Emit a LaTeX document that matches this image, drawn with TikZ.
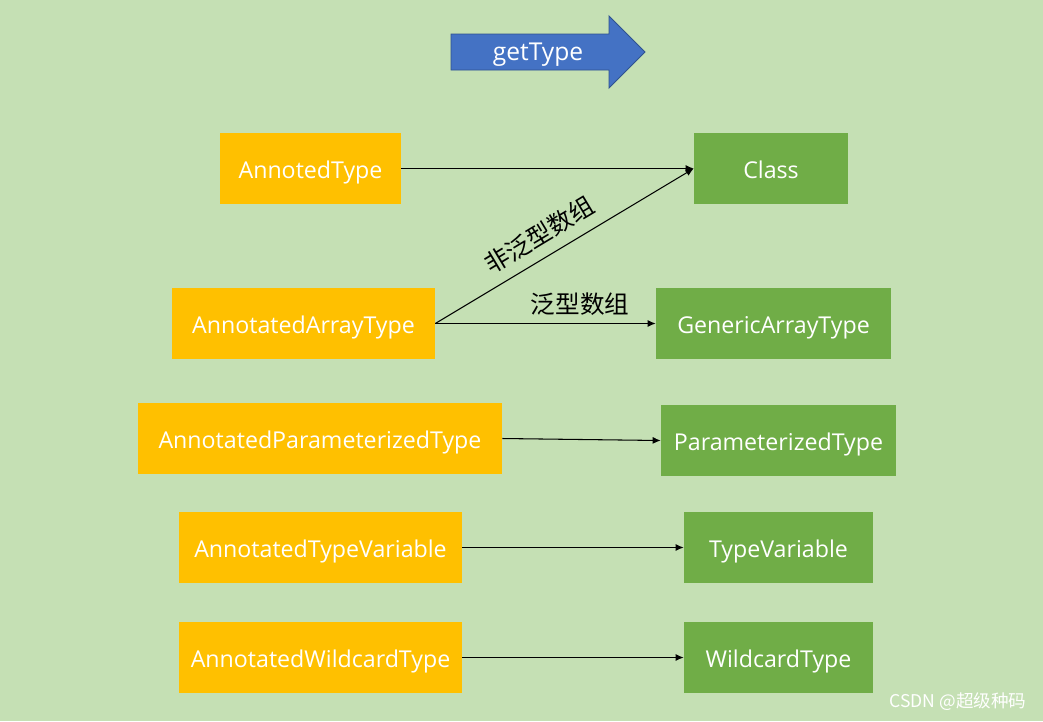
\documentclass[tikz,border=0pt]{standalone}
\usepackage{fontspec}
\setmainfont{Open Sans}
\newfontfamily\cjk{Noto Sans CJK SC}
\usetikzlibrary{arrows.meta}
\definecolor{bgGreen}{HTML}{C5E0B4}
\definecolor{annOrange}{HTML}{FFC000}
\definecolor{rawGreen}{HTML}{70AD47}
\definecolor{callBlue}{HTML}{4472C4}
\definecolor{callEdge}{HTML}{2F528F}
\begin{document}
\begin{tikzpicture}[x=0.02cm,y=-0.02cm,
  box/.style={shape=rectangle,minimum height=1.42cm,inner sep=0,text height=13.5pt,text depth=1.8pt,text=white,font=\fontsize{13.2}{16}\selectfont},
  ann/.style={box,fill=annOrange},
  raw/.style={box,fill=rawGreen},
  lab/.style={font=\cjk\fontsize{14}{16}\selectfont,inner sep=1pt},
  link/.style={line width=0.6pt,-{Latex[length=1.6mm,width=1.4mm]}}]
\def\yA{168.5};
\def\yB{323.5};
\def\yC{438.5};
\def\yD{547.5};
\def\yE{657.5};

% background and size
\fill[bgGreen] (0,0) rectangle (1043,721);
\useasboundingbox (0,0) rectangle (1043,721);

% getType arrow
\filldraw[fill=callBlue,draw=callEdge,line width=0.5pt] (451,34) -- (609,34) -- (609,16) -- (645,52) -- (609,88) -- (609,70) -- (451,70) -- cycle;
\node[text=white,inner sep=0,text height=12pt,text depth=1.9pt,font=\fontsize{14}{16}\selectfont] (call) at (538,52) {getType};

% left column
\node[ann,minimum width=3.62cm] (AT) at (310.5,\yA) {AnnotedType};
\node[ann,minimum width=5.26cm] (AAT) at (303.5,\yB) {AnnotatedArrayType};
\node[ann,minimum width=7.28cm] (APT) at (320,\yC) {AnnotatedParameterizedType};
\node[ann,minimum width=5.66cm] (ATV) at (320.5,\yD) {AnnotatedTypeVariable};
\node[ann,minimum width=5.66cm] (AWT) at (320.5,\yE) {AnnotatedWildcardType};

% right column
\node[raw,minimum width=3.08cm] (C) at (771,\yA) {Class};
\node[raw,minimum width=4.7cm] (GAT) at (773.5,\yB) {GenericArrayType};
\node[raw,minimum width=4.7cm] (PT) at (778.5,440.5) {ParameterizedType};
\node[raw,minimum width=3.78cm] (TV) at (778.5,\yD) {TypeVariable};
\node[raw,minimum width=3.78cm] (WT) at (778.5,\yE) {WildcardType};

\draw[link] (AT.east) -- (C.west);
\draw[link] (AAT.east) -- (C.west);
\draw[link] (AAT.east) -- (GAT.west);
\draw[link] (APT.east) -- (PT.west);
\draw[link] (ATV.east) -- (TV.west);
\draw[link] (AWT.east) -- (WT.west);

\node[lab,rotate=31] (nonGen) at (539,235) {非泛型数组};
\node[lab] (gen) at (580,304) {泛型数组};

% watermark
\node[font=\cjk\fontsize{10}{12}\selectfont,text=white,inner sep=0] (mark) at (958,702) {CSDN @超级种码};
\end{tikzpicture}
\end{document}
